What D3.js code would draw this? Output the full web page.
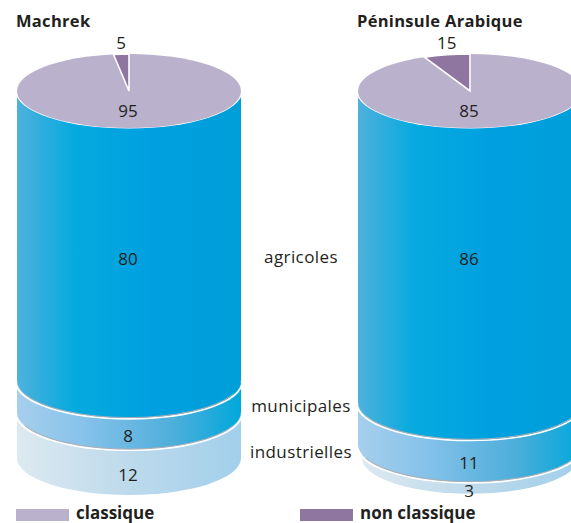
<!DOCTYPE html>
<html>
<head>
<meta charset="utf-8">
<script src="https://cdn.jsdelivr.net/npm/d3@7"></script>
<style>
  html, body { margin: 0; padding: 0; background: #fff; overflow: hidden; }
  text { font-family: "Open Sans", "Noto Sans", sans-serif; fill: #231f20; }
</style>
</head>
<body>
<div id="chart"></div>
<script>
// data
var regions = ["Machrek", "Péninsule Arabique"];
var uses = ["agricoles", "municipales", "industrielles"];
var usesMachrek = [80, 8, 12];
var usesPeninsule = [86, 11, 3];
var types = ["classique", "non classique"];
var typesMachrek = [95, 5];
var typesPeninsule = [85, 15];

var width = 571, height = 523;
var rx = 112, ry = 37, topY = 91;
var gap = 2.5; // white gap between the bands

var svg = d3.select("#chart").append("svg")
    .attr("width", width)
    .attr("height", height);

var defs = svg.append("defs");

function gradient(id, stops) {
    var g = defs.append("linearGradient").attr("id", id);
    stops.forEach(function(s) {
        g.append("stop").attr("offset", s[0]).attr("stop-color", s[1]);
    });
}
gradient("band0", [[0, "#4fb1dc"], [0.25, "#06aadf"], [0.6, "#00a0e0"], [1, "#009fd9"]]);
gradient("band1", [[0, "#a6cfec"], [0.3, "#86c2ea"], [0.7, "#4daeda"], [1, "#00a8dc"]]);
gradient("band2", [[0, "#dde9f0"], [0.45, "#c0dbec"], [1, "#a2cfeb"]]);

var color = d3.scaleOrdinal().domain(types).range(["#bab1cc", "#8e76a0"]);

// height of the bands
var y = d3.scaleLinear().domain([0, 100]).range([0, 362]);
// the slice of the top is not drawn to a full circle in the original
var angle = d3.scaleLinear().domain([0, 100]).range([0, 160 * Math.PI / 180]);
var arc = d3.arc().innerRadius(0).outerRadius(rx);

function cylinder(cx, title, titleX, bands, slices) {
    var g = svg.append("g");

    // work out the bottom edge of every band first
    var edge = topY;
    var rows = bands.map(function(v, i) {
        var r = {use: uses[i], value: v, top: edge + (i ? gap : 0)};
        r.bottom = r.top + y(v);
        edge = r.bottom;
        return r;
    });

    // lowest band first, the one above covers its top
    rows.slice().reverse().forEach(function(r, k) {
        var i = rows.length - 1 - k;
        var bx = r.value < 5 ? rx - 4 : rx; // thin band looks a bit narrower
        var by = bx * ry / rx;
        g.append("path")
            .attr("d", "M" + (cx - bx) + "," + r.top +
                " L" + (cx - bx) + "," + r.bottom +
                " A" + bx + "," + by + " 0 0 0 " + (cx + bx) + "," + r.bottom +
                " L" + (cx + bx) + "," + r.top + " Z")
            .attr("fill", "url(#band" + i + ")");

        if (i < rows.length - 1) {
            // white gap with a thin grey shade on top of it
            g.append("path")
                .attr("d", "M" + (cx - rx - 1) + "," + (r.bottom + gap / 2) +
                    " A" + (rx + 1) + "," + ry + " 0 0 0 " + (cx + rx + 1) + "," + (r.bottom + gap / 2))
                .attr("fill", "none").attr("stroke", "#fff").attr("stroke-width", 1.6);
            // grey only over the middle part of the edge
            var k2 = 0.93, dy = ry * Math.sqrt(1 - k2 * k2);
            g.append("path")
                .attr("d", "M" + (cx - rx * k2) + "," + (r.bottom + dy) +
                    " A" + rx + "," + ry + " 0 0 0 " + (cx + rx * k2) + "," + (r.bottom + dy))
                .attr("fill", "none").attr("stroke", "#a9adb3").attr("stroke-width", 1);
        }
    });

    // top of the cylinder
    var top = g.append("g")
        .attr("transform", "translate(" + cx + "," + topY + ") scale(1," + (ry / rx) + ")");
    top.append("circle")
        .attr("r", rx + 1.5)
        .attr("fill", "#fff");
    top.append("circle")
        .attr("r", rx)
        .attr("fill", color(types[0]));
    top.append("path")
        .attr("d", arc({startAngle: -angle(slices[1]), endAngle: 0}))
        .attr("fill", color(types[1]))
        .attr("stroke", "#fff")
        .attr("stroke-width", 1.6)
        .attr("vector-effect", "non-scaling-stroke");

    // labels
    function label(x, yy, t) {
        g.append("text")
            .attr("x", x).attr("y", yy)
            .attr("text-anchor", "middle")
            .attr("dominant-baseline", "central")
            .style("font-size", "17px")
            .text(t);
    }
    var mid = angle(slices[1]) / 2;
    label(cx - Math.sin(mid) * rx * 1.0, 42, slices[1]);
    label(cx - 1, 110, slices[0]);
    rows.forEach(function(r, i) {
        // the band shows from the lower edge of the band above to its own lower edge
        var shown = (r.top + r.bottom) / 2 + ry;
        label(cx - 1, i == 0 ? 258 : shown + 1, r.value);
    });

    svg.append("text")
        .attr("x", titleX).attr("y", 27)
        .style("font-size", "16.5px")
        .style("font-weight", "bold")
        .style("letter-spacing", "0.3px")
        .text(title);
}

cylinder(129, regions[0], 16, usesMachrek, typesMachrek);
cylinder(470, regions[1], 357, usesPeninsule, typesPeninsule);

// names of the bands, between the two cylinders
svg.selectAll(".use")
    .data(uses)
    .enter().append("text")
    .attr("class", "use")
    .attr("x", 301)
    .attr("y", d3.scaleOrdinal().domain(uses).range([256, 405, 451]))
    .attr("text-anchor", "middle")
    .attr("dominant-baseline", "central")
    .style("font-size", "17px")
    .style("letter-spacing", "0.4px")
    .text(function(d) { return d; });

// legend
var legend = svg.selectAll(".legend")
    .data(types)
    .enter().append("g")
    .attr("class", "legend")
    .attr("transform", function(d, i) { return "translate(" + (i ? 300 : 16) + ",509)"; });
legend.append("rect")
    .attr("width", 53)
    .attr("height", 12)
    .attr("fill", function(d) { return color(d); });
legend.append("text")
    .attr("x", 60)
    .attr("y", 10)
    .style("font-size", "17px")
    .style("font-weight", "bold")
    .text(function(d) { return d; });
</script>
</body>
</html>
